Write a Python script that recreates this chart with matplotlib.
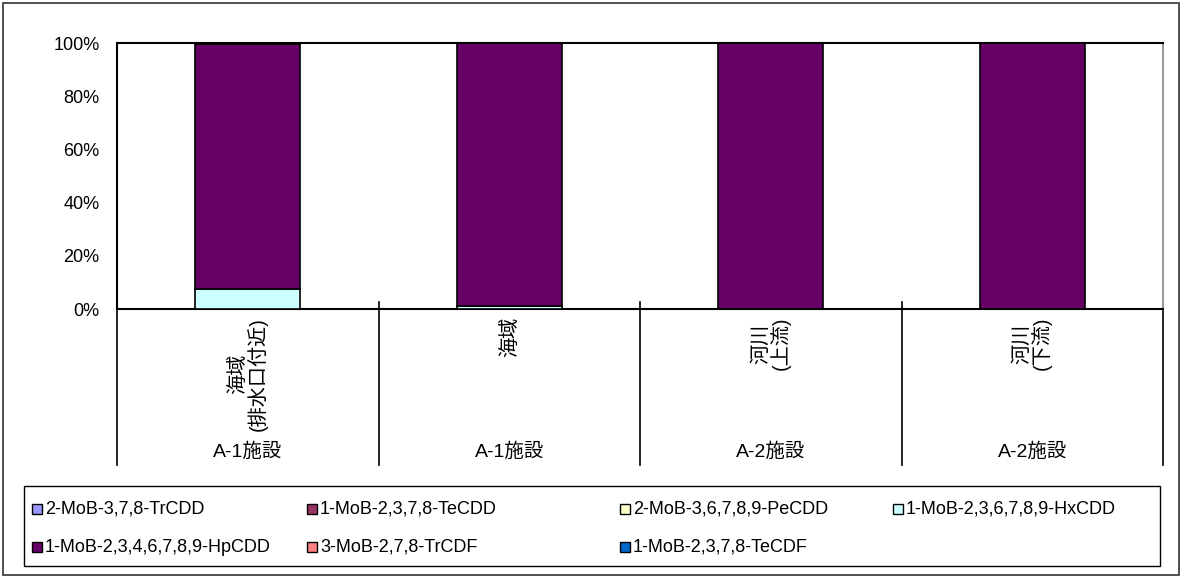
import matplotlib
matplotlib.use("Agg")
import matplotlib.pyplot as plt
from matplotlib.patches import Rectangle
from matplotlib.ticker import FuncFormatter
import numpy as np

plt.rcParams['font.family'] = ['Liberation Sans', 'Noto Sans CJK JP', 'DejaVu Sans']

# ----------------------------------------------------------------------
# data (percent share of each congener per sampling point)
# ----------------------------------------------------------------------
sites = ["海域\n(排水口付近)", "海域", "河川\n(上流)", "河川\n(下流)"]
facilities = ["A-1施設", "A-1施設", "A-2施設", "A-2施設"]

series_names = [
    "2-MoB-3,7,8-TrCDD",
    "1-MoB-2,3,7,8-TeCDD",
    "2-MoB-3,6,7,8,9-PeCDD",
    "1-MoB-2,3,6,7,8,9-HxCDD",
    "1-MoB-2,3,4,6,7,8,9-HpCDD",
    "3-MoB-2,7,8-TrCDF",
    "1-MoB-2,3,7,8-TeCDF",
]
trcdd = [0.0, 0.0, 0.0, 0.0]
tecdd = [0.0, 0.0, 0.0, 0.0]
pecdd = [0.0, 0.0, 0.0, 0.0]
hxcdd = [7.5, 1.0, 0.0, 0.0]
hpcdd = [92.0, 99.0, 100.0, 100.0]
trcdf = [0.5, 0.0, 0.0, 0.0]
tecdf = [0.0, 0.0, 0.0, 0.0]

colors = ["#9999FF", "#993366", "#FFFFCC", "#CCFFFF", "#660066", "#FF8080", "#0066CC"]

# ----------------------------------------------------------------------
# figure
# ----------------------------------------------------------------------
W, H = 1182, 578
fig = plt.figure(figsize=(W / 100, H / 100), dpi=100)
ax = fig.add_axes([117 / W, 1 - 309 / H, (1163 - 117) / W, (309 - 43) / H])

x = np.arange(len(sites))
bottom = np.zeros(len(sites))
for name, vals, col in zip(series_names,
                           [trcdd, tecdd, pecdd, hxcdd, hpcdd, trcdf, tecdf],
                           colors):
    vals = np.array(vals)
    # skip zero segments so they don't draw stray edges
    shown = np.where(vals > 0, vals, np.nan)
    ax.bar(x, shown, 0.4, bottom=bottom, color=col, edgecolor="black",
           linewidth=1.2, zorder=3)
    bottom += vals

ax.set_xlim(-0.5, len(sites) - 0.5)
ax.set_ylim(0, 100)
ax.set_yticks(range(0, 101, 20))
ax.yaxis.set_major_formatter(FuncFormatter(lambda v, _: f"{v:.0f}%"))
ax.tick_params(axis="y", labelsize=13, length=0, pad=12.5)
ax.set_xticks([])

for side in ["left", "bottom", "top"]:
    ax.spines[side].set_color("black")
    ax.spines[side].set_linewidth(1.5)
ax.spines["right"].set_color("#999999")
ax.spines["right"].set_linewidth(1.5)

# two level category axis
sep_bottom = -(465 - 309) / (309 - 43)
for xs in np.arange(-0.5, len(sites), 1.0):
    ax.plot([xs, xs], [0.025 if 0 < xs < len(sites) - 0.5 else 0, sep_bottom],
            transform=ax.get_xaxis_transform(), color="black", linewidth=1.2,
            clip_on=False, zorder=4)

for xi, site, fac in zip(x, sites, facilities):
    ax.text(xi, -0.03, site, transform=ax.get_xaxis_transform(), rotation=90,
            ha="center", va="top", multialignment="center", fontsize=14.5,
            linespacing=1.0)
    ax.text(xi, -(452 - 309) / (309 - 43), fac, transform=ax.get_xaxis_transform(),
            ha="center", va="center", fontsize=14)

# legend drawn by hand so columns sit where the original puts them
leg_cols = [32, 307, 620, 893]
leg_rows = [509, 547]
fig.patches.append(Rectangle((24 / W, 1 - 566 / H), (1160 - 24) / W, (566 - 486) / H,
                             transform=fig.transFigure, fill=False,
                             edgecolor="black", linewidth=1.0))
for k, name in enumerate(series_names):
    cx = leg_cols[k % 4]
    cy = leg_rows[k // 4]
    sq = 10
    fig.patches.append(Rectangle((cx / W, 1 - (cy + sq / 2) / H), sq / W, sq / H,
                                 transform=fig.transFigure, facecolor=colors[k],
                                 edgecolor="black", linewidth=1.0))
    fig.text((cx + sq + 3) / W, 1 - cy / H, name, fontsize=13,
             ha="left", va="center")

# outer chart border
fig.patches.append(Rectangle((3 / W, 3 / H), (W - 6) / W, (H - 6) / H,
                             transform=fig.transFigure, fill=False,
                             edgecolor="#333333", linewidth=1.2))

fig.savefig("out.png", dpi=100)
